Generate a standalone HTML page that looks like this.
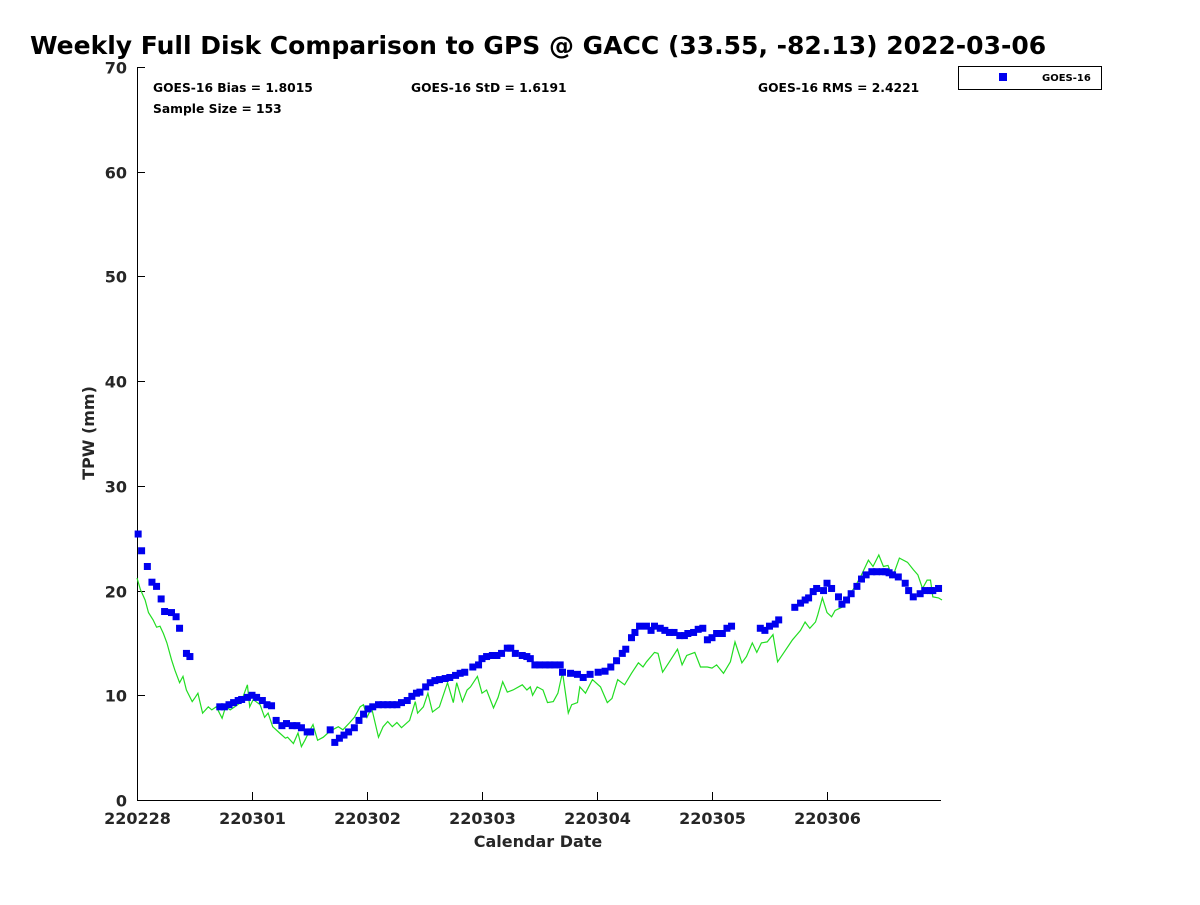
<!DOCTYPE html>
<html><head><meta charset="utf-8"><style>
body{margin:0;background:#fff;}
svg text{font-family:"DejaVu Sans","Liberation Sans",sans-serif;font-weight:bold;fill:#000;}
svg text.tk{fill:#262626;}
</style></head><body>
<svg id="chart" width="1200" height="900" viewBox="0 0 1200 900" xmlns="http://www.w3.org/2000/svg">
<text x="30" y="54" font-size="25">Weekly Full Disk Comparison to GPS @ GACC (33.55, -82.13) 2022-03-06</text>
<text x="153" y="92" font-size="12.3">GOES-16 Bias = 1.8015</text>
<text x="153" y="113" font-size="12.3">Sample Size = 153</text>
<text x="411" y="92" font-size="12.3">GOES-16 StD = 1.6191</text>
<text x="758" y="92" font-size="12.3">GOES-16 RMS = 2.4221</text>
<g>
<rect x="958.5" y="66.5" width="143" height="23" fill="#fff" stroke="#000"/>
<rect x="999" y="73" width="8" height="8" fill="#0000ee"/>
<text x="1042" y="81" font-size="10">GOES-16</text>
</g>
<text class="tk" transform="translate(94,433) rotate(-90)" text-anchor="middle" font-size="16">TPW (mm)</text>
<text class="tk" x="538" y="847" text-anchor="middle" font-size="16">Calendar Date</text>
<g id="axes"></g>
<g id="marks"></g>
</svg>
<script>
const xTickLabels=["220228","220301","220302","220303","220304","220305","220306"];
const yTickValues=[0,10,20,30,40,50,60,70];
const goesDays=[0.01,0.04,0.09,0.13,0.17,0.21,0.24,0.30,0.34,0.37,0.43,0.46,0.72,0.76,0.80,0.84,0.88,0.91,0.96,1.00,1.04,1.09,1.13,1.17,1.21,1.26,1.30,1.35,1.39,1.43,1.48,1.51,1.68,1.72,1.76,1.80,1.84,1.89,1.93,1.97,2.01,2.05,2.10,2.14,2.18,2.22,2.26,2.30,2.35,2.39,2.43,2.46,2.51,2.55,2.59,2.63,2.68,2.72,2.77,2.81,2.85,2.92,2.97,3.00,3.04,3.09,3.13,3.17,3.22,3.25,3.29,3.35,3.39,3.42,3.46,3.50,3.55,3.59,3.63,3.68,3.70,3.77,3.83,3.88,3.94,4.01,4.07,4.12,4.17,4.22,4.25,4.30,4.33,4.37,4.43,4.47,4.50,4.55,4.59,4.63,4.67,4.72,4.76,4.79,4.84,4.88,4.92,4.96,5.00,5.04,5.09,5.13,5.17,5.42,5.46,5.50,5.55,5.58,5.72,5.77,5.81,5.84,5.88,5.91,5.97,6.00,6.04,6.10,6.13,6.17,6.21,6.26,6.30,6.34,6.39,6.43,6.48,6.51,6.54,6.57,6.62,6.68,6.71,6.75,6.81,6.85,6.90,6.92,6.97];
const goesTPW=[25.4,23.8,22.3,20.8,20.4,19.2,18.0,17.9,17.5,16.4,14.0,13.7,8.9,8.9,9.1,9.3,9.5,9.6,9.8,10.0,9.8,9.5,9.1,9.0,7.6,7.1,7.3,7.1,7.1,6.9,6.5,6.5,6.7,5.5,5.9,6.2,6.5,6.9,7.6,8.2,8.7,8.9,9.1,9.1,9.1,9.1,9.1,9.3,9.5,9.9,10.2,10.3,10.8,11.2,11.4,11.5,11.6,11.7,11.9,12.1,12.2,12.7,12.9,13.5,13.7,13.8,13.8,14.0,14.5,14.5,14.0,13.8,13.7,13.5,12.9,12.9,12.9,12.9,12.9,12.9,12.2,12.1,12.0,11.7,12.0,12.2,12.3,12.7,13.3,14.0,14.4,15.5,16.0,16.6,16.6,16.2,16.6,16.4,16.2,16.0,16.0,15.7,15.7,15.9,16.0,16.3,16.4,15.3,15.5,15.9,15.9,16.4,16.6,16.4,16.2,16.6,16.8,17.2,18.4,18.8,19.1,19.3,19.9,20.2,20.0,20.7,20.2,19.4,18.7,19.1,19.7,20.4,21.1,21.5,21.8,21.8,21.8,21.8,21.7,21.5,21.3,20.7,20.0,19.4,19.7,20.0,20.0,20.0,20.2];
const gpsDays=[0.00,0.03,0.07,0.10,0.14,0.17,0.20,0.23,0.26,0.30,0.33,0.37,0.40,0.43,0.48,0.50,0.53,0.57,0.62,0.65,0.69,0.74,0.77,0.81,0.85,0.90,0.92,0.96,0.98,1.01,1.07,1.11,1.14,1.18,1.24,1.29,1.31,1.36,1.40,1.43,1.46,1.49,1.53,1.57,1.62,1.66,1.70,1.75,1.79,1.85,1.89,1.94,1.97,2.00,2.04,2.10,2.14,2.18,2.22,2.26,2.30,2.37,2.42,2.44,2.49,2.53,2.57,2.63,2.70,2.75,2.78,2.83,2.87,2.90,2.96,3.00,3.04,3.10,3.14,3.18,3.22,3.27,3.35,3.39,3.42,3.44,3.48,3.53,3.57,3.62,3.66,3.70,3.75,3.78,3.83,3.85,3.90,3.96,4.03,4.09,4.13,4.18,4.24,4.30,4.36,4.40,4.43,4.50,4.53,4.57,4.63,4.70,4.74,4.78,4.85,4.90,4.96,5.00,5.04,5.10,5.16,5.20,5.26,5.30,5.35,5.39,5.43,5.48,5.53,5.57,5.62,5.70,5.77,5.81,5.85,5.90,5.92,5.96,6.00,6.04,6.07,6.13,6.18,6.24,6.30,6.36,6.40,6.45,6.49,6.53,6.57,6.63,6.70,6.75,6.79,6.83,6.87,6.90,6.92,6.97,7.00];
const gpsTPW=[21.2,20.1,19.1,17.9,17.2,16.5,16.6,15.9,15.0,13.4,12.4,11.2,11.8,10.5,9.4,9.7,10.2,8.3,8.9,8.6,8.9,7.8,8.9,8.6,8.9,9.3,9.8,11.0,8.9,9.6,9.1,7.9,8.3,7.0,6.4,5.9,6.0,5.4,6.4,5.1,5.7,6.4,7.2,5.7,6.0,6.4,6.7,7.0,6.7,7.4,7.9,8.9,9.1,7.9,8.8,6.0,7.0,7.5,7.0,7.4,6.9,7.6,9.4,8.3,8.9,10.2,8.4,8.9,11.2,9.3,11.2,9.4,10.5,10.8,11.8,10.2,10.5,8.8,9.8,11.3,10.3,10.5,11.0,10.5,10.8,10.0,10.8,10.5,9.3,9.4,10.2,12.2,8.3,9.1,9.3,10.8,10.2,11.5,10.8,9.3,9.7,11.5,11.0,12.1,13.1,12.7,13.2,14.1,14.0,12.2,13.2,14.4,12.9,13.8,14.1,12.7,12.7,12.6,12.9,12.1,13.2,15.1,13.1,13.7,15.0,14.1,15.0,15.1,15.8,13.2,14.0,15.3,16.2,17.0,16.4,17.0,17.7,19.3,17.9,17.5,18.1,18.4,19.4,20.3,21.5,22.9,22.3,23.4,22.3,22.4,21.3,23.1,22.7,22.0,21.5,20.2,21.0,21.0,19.4,19.3,19.1];

const X0=137,X1=941,Y0=800,Y1=67,PXDAY=115;
function xs(d){return X0+d*PXDAY;}
function ys(v){return Y0-(v/70)*(Y0-Y1);}
const NS="http://www.w3.org/2000/svg";
const axes=document.getElementById('axes'),marks=document.getElementById('marks');
function mk(tag,attrs,parent){const e=document.createElementNS(NS,tag);for(const k in attrs)e.setAttribute(k,attrs[k]);parent.appendChild(e);return e;}

const yl=mk('line',{x1:X0+0.5,y1:Y1,x2:X0+0.5,y2:Y0,stroke:'#000'},axes);


const xl=mk('line',{x1:X0,y1:Y0+0.5,x2:X1,y2:Y0+0.5,stroke:'#000'},axes);


yTickValues.forEach(v=>{
  const y=Math.round(ys(v))+0.5;
  const t=mk('line',{x1:X0,y1:y,x2:X0+8,y2:y,stroke:'#000'},axes);
  
  
  const l=mk('text',{x:X0-10,y:y+6,'text-anchor':'end','font-size':16,'class':'tk'},axes);
  l.textContent=v;
  
  
});
xTickLabels.forEach((s,i)=>{
  const x=Math.round(xs(i))+0.5;
  const t=mk('line',{x1:x,y1:Y0,x2:x,y2:Y0-8,stroke:'#000'},axes);
  
  
  const l=mk('text',{x:x,y:Y0+24,'text-anchor':'middle','font-size':16,'class':'tk'},axes);
  l.textContent=s;
  
  
});
const pts=gpsDays.map((d,i)=>xs(d).toFixed(1)+','+ys(gpsTPW[i]).toFixed(1)).join(' ');
const line=mk('polyline',{points:pts,fill:'none',stroke:'#22dd22','stroke-width':1.2},marks);


goesDays.forEach((d,i)=>{
  const r=mk('rect',{x:xs(d)-3.5,y:ys(goesTPW[i])-3.5,width:7,height:7,fill:'#0000ee'},marks);
  
  
});
</script>
</body></html>
